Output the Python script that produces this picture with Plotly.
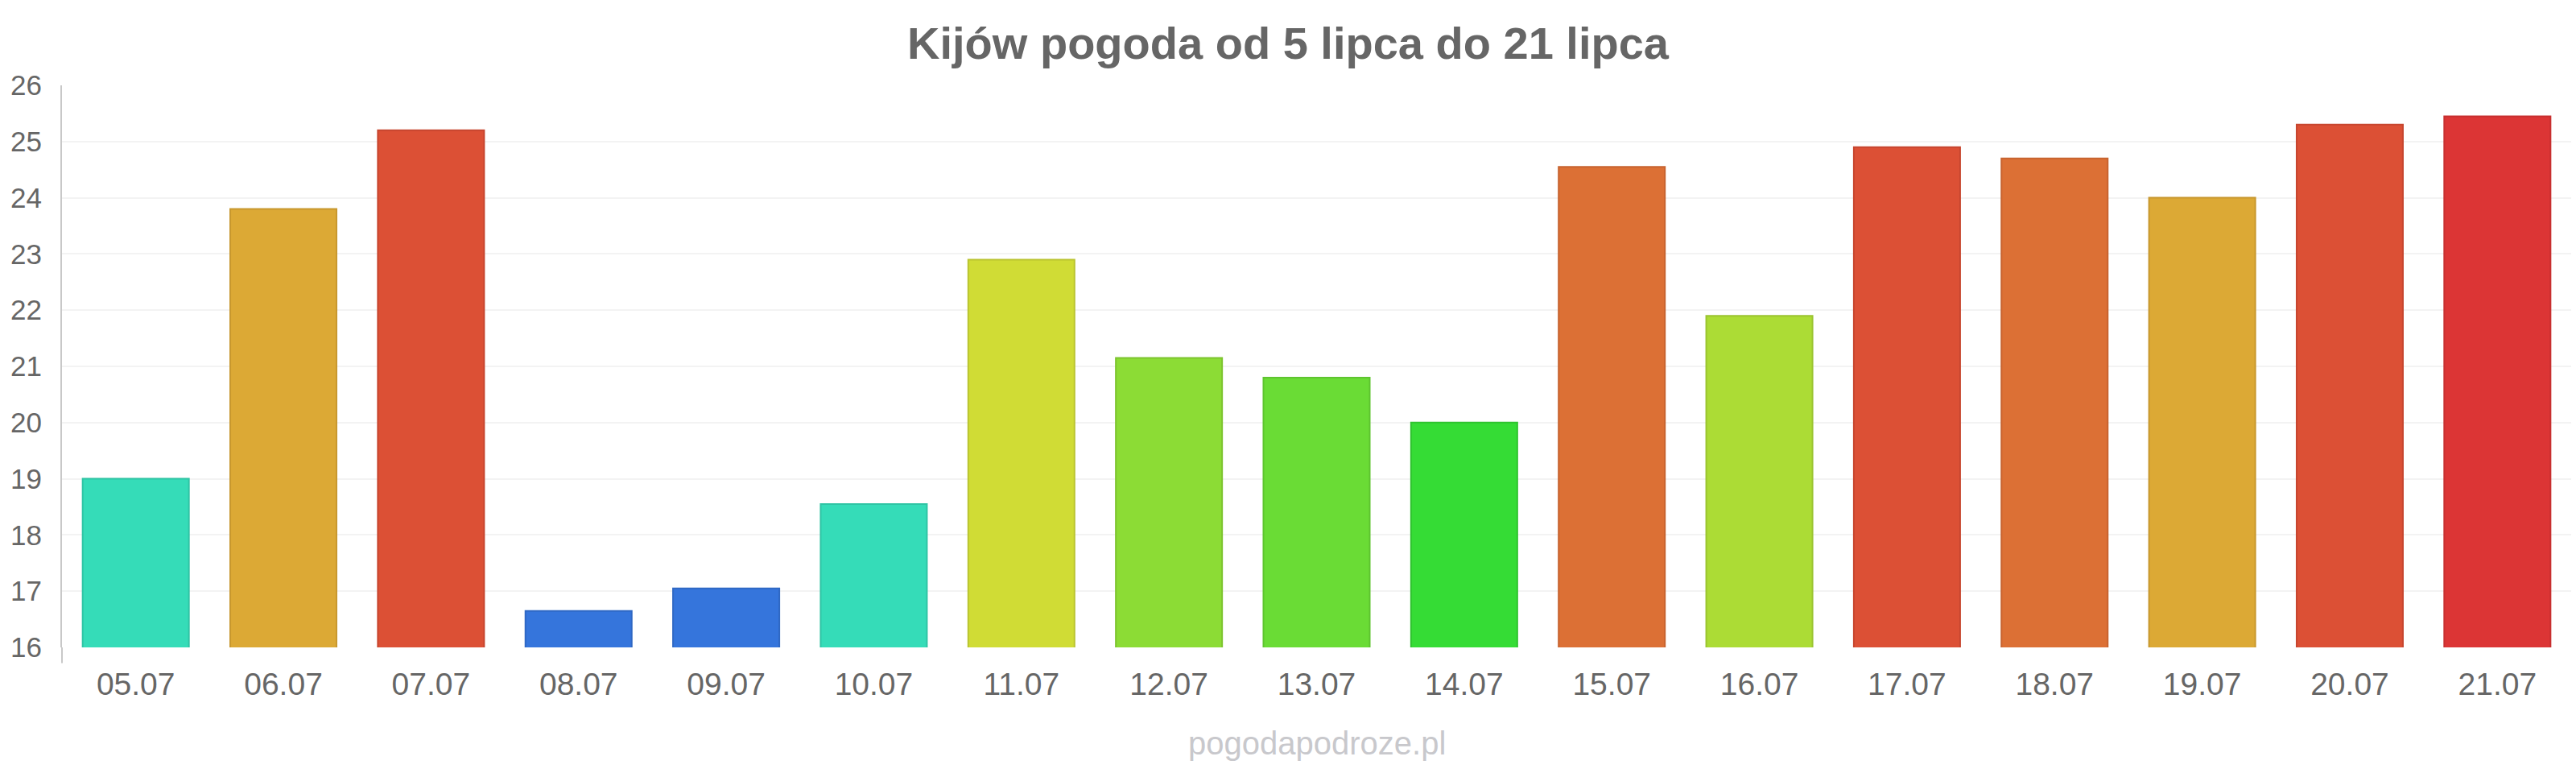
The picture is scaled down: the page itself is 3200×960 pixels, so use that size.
import plotly.graph_objects as go

dates = ["05.07", "06.07", "07.07", "08.07", "09.07", "10.07", "11.07", "12.07", "13.07",
         "14.07", "15.07", "16.07", "17.07", "18.07", "19.07", "20.07", "21.07"]
temps = [19.0, 23.8, 25.2, 16.65, 17.05, 18.55, 22.9, 21.15, 20.8,
         20.0, 24.55, 21.9, 24.9, 24.7, 24.0, 25.3, 25.45]
colors = ["#35dcb8", "#dca935", "#dc5035", "#3575dc", "#3575dc", "#35dcb8", "#d0dc35", "#8cdc35", "#6adc35",
          "#35dc35", "#dc7035", "#acdc35", "#dc5035", "#dc7035", "#dca935", "#dc5035", "#dc3535"]
borders = ["#2fc4a4", "#c8982e", "#c7462f", "#2f68c4", "#2f68c4", "#2fc4a4", "#bac42f", "#7dc42f", "#5ec42f",
           "#2fc42f", "#c7632f", "#9ac42f", "#c7462f", "#c7632f", "#c8982e", "#c7462f", "#c72f2f"]

title_text = "Kijów pogoda od 5 lipca do 21 lipca"
watermark = "pogodapodroze.pl"

fig = go.Figure(go.Bar(
    x=dates, y=temps,
    marker=dict(color=colors, line=dict(color=borders, width=2)),
    hoverinfo="x+y",
))

font_family = "Liberation Sans, Arial, sans-serif"

fig.update_layout(
    width=3200, height=960,
    margin=dict(l=77, r=6, t=106, b=156),
    paper_bgcolor="white", plot_bgcolor="white",
    bargap=0.28,
    showlegend=False,
    font=dict(family=font_family, color="#666666"),
    title=dict(text="<b>" + title_text + "</b>", x=0.5, xanchor="center",
               y=1 - 53 / 960, yanchor="middle", yref="container",
               font=dict(size=56, color="#666666", family=font_family)),
    xaxis=dict(
        showgrid=False, showline=False, zeroline=False,
        ticks="outside", ticklen=11, tickcolor="rgba(0,0,0,0)",
        tickfont=dict(size=39, color="#666666"),
    ),
    yaxis=dict(
        range=[16, 26], dtick=1, tick0=16,
        showgrid=True, gridcolor="#f3f3f3", gridwidth=2,
        showline=True, linecolor="#c8c8c8", linewidth=2,
        zeroline=False,
        ticks="outside", ticklen=16, tickcolor="rgba(0,0,0,0)",
        tickfont=dict(size=35, color="#666666"),
    ),
    shapes=[dict(type="line", xref="paper", yref="paper", x0=0, x1=0, y0=0, y1=-0.028,
                 line=dict(color="#c8c8c8", width=2))],
    annotations=[dict(text=watermark, xref="paper", yref="paper", x=0.5, y=-0.171,
                      xanchor="center", yanchor="middle", showarrow=False,
                      font=dict(size=40, color="#c8c8cc", family=font_family))],
)

fig.write_html("out.html")
